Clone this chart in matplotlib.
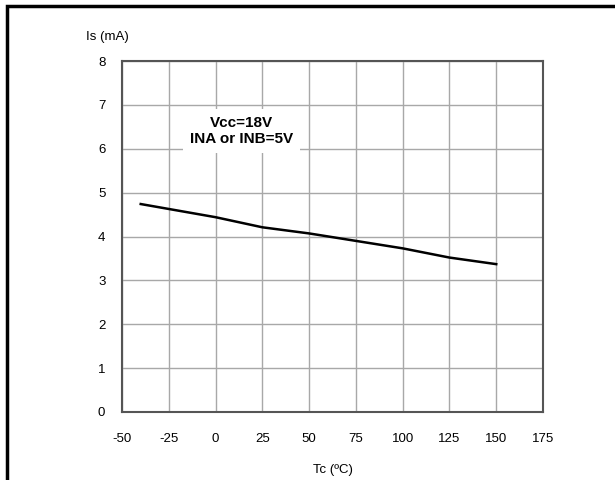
import matplotlib
matplotlib.use("Agg")
import matplotlib.pyplot as plt
from matplotlib.patches import Rectangle

plt.rcParams['font.family'] = ['Liberation Sans', 'DejaVu Sans']
plt.rcParams['axes.unicode_minus'] = False

# supply current vs case temperature
tc = [-40, 0, 25, 50, 75, 100, 125, 150]
i_s = [4.74, 4.44, 4.21, 4.07, 3.90, 3.73, 3.52, 3.37]

x_ticks = [-50, -25, 0, 25, 50, 75, 100, 125, 150, 175]
y_ticks = [0, 1, 2, 3, 4, 5, 6, 7, 8]

fig = plt.figure(figsize=(6.15, 4.8), dpi=100)

# outer frame of the datasheet figure
fig.patches.append(Rectangle((7 / 615, -0.1), 1.2, (480 - 6) / 480 + 0.1,
                             transform=fig.transFigure, fill=False,
                             edgecolor='black', linewidth=2.5))

ax = fig.add_axes([122 / 615, 68 / 480, 421 / 615, 351 / 480])
ax.plot(tc, i_s, color='black', linewidth=1.8, zorder=3)

ax.set_xlim(-50, 175)
ax.set_ylim(0, 8)
ax.set_xticks(x_ticks)
ax.set_yticks(y_ticks)
ax.grid(True, color='#a8a8a8', linewidth=1.0)
ax.tick_params(length=0, labelsize=9.5)
ax.tick_params(axis='x', pad=15)
ax.tick_params(axis='y', pad=12)
for s in ax.spines.values():
    s.set_color('#555555')
    s.set_linewidth(1.5)

ax.text(-0.085, 1.068, 'Is (mA)', transform=ax.transAxes, fontsize=9.5,
        ha='left', va='center')
ax.set_xlabel('Tc (ºC)', fontsize=9.5, labelpad=14)

ax.text(14, 6.4, 'Vcc=18V\nINA or INB=5V', fontsize=11, fontweight='bold',
        ha='center', va='center', linespacing=1.2, zorder=4,
        bbox=dict(facecolor='white', edgecolor='none', pad=5))

fig.savefig('out.png', dpi=100)
